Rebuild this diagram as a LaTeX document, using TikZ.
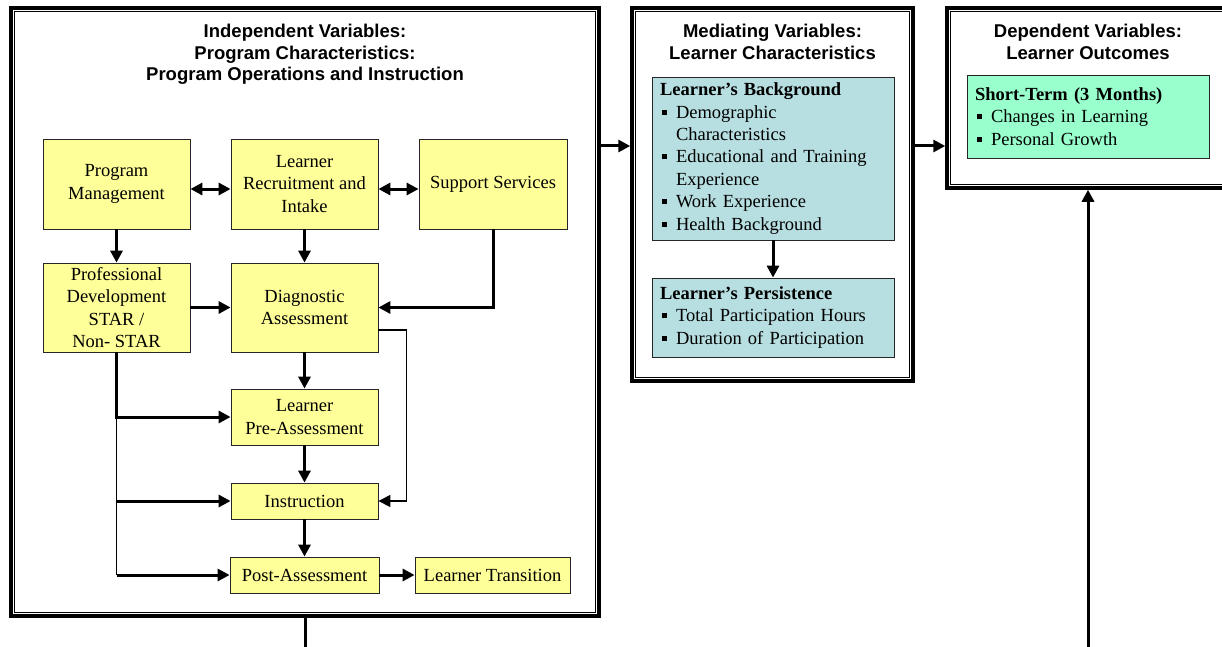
\documentclass[tikz,border=0pt]{standalone}
\usepackage{fontspec}
\setmainfont{Liberation Serif}
\setsansfont{Liberation Sans}
\usetikzlibrary{arrows.meta,positioning}

\definecolor{progyellow}{RGB}{255,255,153}
\definecolor{learnteal}{RGB}{183,222,224}
\definecolor{outgreen}{RGB}{153,255,204}

\newcommand{\bsq}{\makebox[16pt][l]{\hspace{2pt}\rule[3.5pt]{5pt}{5pt}}}
\newcommand{\hang}{\hspace*{16pt}}

\tikzset{
  ybox/.style={draw=black!85, fill=progyellow, line width=0.8pt, align=center, inner sep=0pt,
    font=\fontsize{18.5}{22.5}\selectfont},
  listbox/.style={draw=black!85, line width=0.8pt, align=left, inner xsep=8pt, inner ysep=0pt,
    text width=226pt, font=\fontsize{18.5}{22.4}\selectfont},
  bigbox/.style={draw, line width=3.5pt, inner sep=0pt},
  head/.style={anchor=north, align=center, inner sep=0pt,
    font=\sffamily\bfseries\fontsize{18.5}{21.5}\selectfont},
  link/.style={line width=3pt, -{Triangle[length=12pt,width=12pt]}},
  dlink/.style={line width=3pt, {Triangle[length=12pt,width=12pt]}-{Triangle[length=12pt,width=12pt]}},
  thinlink/.style={line width=1.2pt, -{Triangle[length=12pt,width=12pt]}}
}

\begin{document}
\begin{tikzpicture}[x=1pt,y=1pt]
    \useasboundingbox (0,0) rectangle (1222,-647);

    \node[bigbox, minimum width=588, minimum height=608] (indep) at (305,-312) {};
    \node[bigbox, minimum width=281, minimum height=373] (med) at (772.5,-194.5) {};
    \node[bigbox, minimum width=282, minimum height=180] (dep) at (1088,-98) {};
    \foreach \b in {indep,med,dep}
        \draw[line width=1pt] ([shift={(5.5,-5.5)}]\b.north west) rectangle ([shift={(-5.5,5.5)}]\b.south east);

    \node[head] (indephead) at (305,-24) {Independent Variables:\\Program Characteristics:\\Program Operations and Instruction};
    \node[head] (medhead) at (772.5,-24) {Mediating Variables:\\Learner Characteristics};
    \node[head] (dephead) at (1088,-24) {Dependent Variables:\\Learner Outcomes};

    \node[ybox, minimum width=147, minimum height=90] (pm) at (116.5,-184) {Program\\Management};
    \node[ybox, minimum width=147, minimum height=90] (lr) at (304.5,-184) {Learner\\Recruitment and\\Intake};
    \node[ybox, minimum width=148, minimum height=90] (ss) at (493,-184) {Support Services};
    \node[ybox, minimum width=147, minimum height=89] (pd) at (116.5,-307.5) {Professional\\Development\\STAR /\\Non- STAR};
    \node[ybox, minimum width=147, minimum height=89] (da) at (304.5,-307.5) {Diagnostic\\Assessment};
    \node[ybox, minimum width=147, minimum height=56] (pa) at (304.5,-417) {Learner\\Pre-Assessment};
    \node[ybox, minimum width=147, minimum height=36] (in) at (304.5,-501) {Instruction};
    \node[ybox, minimum width=149, minimum height=36] (po) at (304.5,-575) {Post-Assessment};
    \node[ybox, minimum width=155, minimum height=36] (lt) at (492.5,-575) {Learner Transition};

    \node[listbox, fill=learnteal, minimum height=163] (bg) at (773,-158.5) {{\bfseries Learner’s Background}\\
        \bsq Demographic\\\hang Characteristics\\
        \bsq Educational and Training\\\hang Experience\\
        \bsq Work Experience\\
        \bsq Health Background};
    \node[listbox, fill=learnteal, minimum height=79] (per) at (773,-317.5) {{\bfseries Learner’s Persistence}\\
        \bsq Total Participation Hours\\
        \bsq Duration of Participation};
    \node[listbox, fill=outgreen, minimum height=83] (st) at (1088,-116.5) {{\bfseries Short-Term (3 Months)}\\
        \bsq Changes in Learning\\
        \bsq Personal Growth};

    \draw[dlink] ([yshift=-5]pm.east) -- ([yshift=-5]lr.west);
    \draw[dlink] ([yshift=-5]lr.east) -- ([yshift=-5]ss.west);
    \draw[link] (pm) -- (pd);
    \draw[link] (lr) -- (da);
    \draw[link] (pd) -- (da);
    \draw[link] (ss.south) |- (da.east);
    \draw[thinlink] ([yshift=-22.5]da.east) -- ++(28,0) |- (in.east);
    \draw[link] (da) -- (pa);
    \draw[link] (pa) -- (in);
    \draw[link] (in) -- (po);
    \draw[link] (po) -- (lt);

    \coordinate (pdturn) at (pd.south |- pa.west);
    \draw[link] (pd.south) |- (pa.west);
    \draw[line width=1.2pt] (pdturn) -- (pd.south |- po.west);
    \draw[link] (pd.south |- in.west) -- (in.west);
    \draw[link] (pd.south |- po.west) -- (po.west);

    \draw[link] (bg) -- (per);

    \coordinate (toprow) at (0,-146);
    \draw[link] (indep.east |- toprow) -- (med.west |- toprow);
    \draw[link] (med.east |- toprow) -- (dep.west |- toprow);

    \coordinate (indepout) at (305,-647);
    \coordinate (depin) at (1088,-647);
    \draw[line width=3pt] (indep.south) -- (indepout);
    \draw[link] (depin) -- (dep.south);
\end{tikzpicture}
\end{document}
